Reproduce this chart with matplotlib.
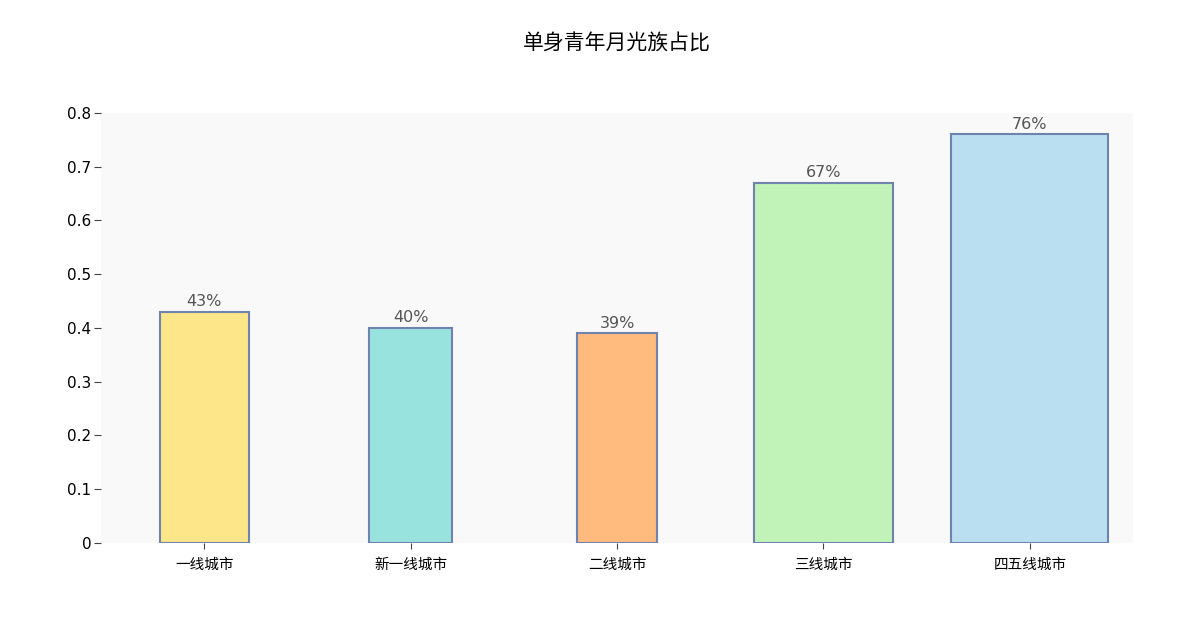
import matplotlib
matplotlib.use('Agg')
import matplotlib.pyplot as plt

plt.rcParams['font.family'] = ['DejaVu Sans', 'Noto Sans CJK SC']

cities = ['一线城市', '新一线城市', '二线城市', '三线城市', '四五线城市']
shares = [0.43, 0.40, 0.39, 0.67, 0.76]
colors = ['#FDE589', '#99E3DF', '#FFBB7D', '#C1F3B8', '#B9DFF1']

fig = plt.figure(figsize=(12, 6.18), dpi=100)
ax = fig.add_axes([0.0842, 0.1214, 0.8600, 0.6960])
ax.set_facecolor('#F9F9F9')

x = range(len(cities))
# bar widths follow the values themselves
bars = ax.bar(x, shares, width=shares, color=colors, edgecolor='#6F83AF', linewidth=1.5)

for b, v in zip(bars, shares):
    ax.annotate(f'{v:.0%}', (b.get_x() + b.get_width() / 2, v),
                xytext=(0, 2), textcoords='offset points',
                ha='center', va='bottom', fontsize=11.5, color='#555555')

ax.set_xlim(-0.5, 4.5)
ax.set_ylim(0, 0.8)
ax.set_xticks(list(x))
ax.set_xticklabels(cities, family=['Noto Sans CJK SC', 'DejaVu Sans'], fontsize=10.5)
ax.set_yticks([0, 0.1, 0.2, 0.3, 0.4, 0.5, 0.6, 0.7, 0.8])
ax.set_yticklabels(['0', '0.1', '0.2', '0.3', '0.4', '0.5', '0.6', '0.7', '0.8'])

for s in ax.spines.values():
    s.set_visible(False)
ax.tick_params(axis='y', length=5, color='#444444', labelsize=11, pad=2)
ax.tick_params(axis='x', length=4, color='#444444', pad=7)

# title sits centred over the plot area, not the whole figure
fig.text(0.5142, 0.929, '单身青年月光族占比', ha='center', va='center', fontsize=15,
         family=['Noto Sans CJK SC', 'DejaVu Sans'])

fig.savefig('out.png')
